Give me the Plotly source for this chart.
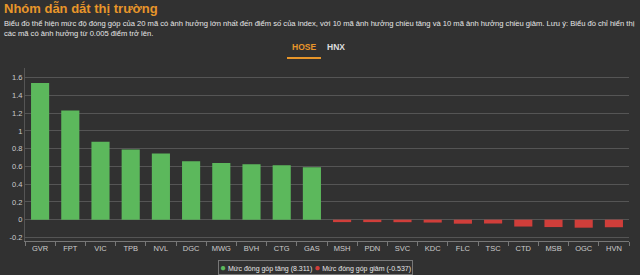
import plotly.graph_objects as go

up_codes = ["GVR", "FPT", "VIC", "TPB", "NVL", "DGC", "MWG", "BVH", "CTG", "GAS"]
up_vals = [1.54, 1.23, 0.88, 0.79, 0.745, 0.66, 0.64, 0.625, 0.615, 0.59]
down_codes = ["MSH", "PDN", "SVC", "KDC", "FLC", "TSC", "CTD", "MSB", "OGC", "HVN"]
down_vals = [-0.027, -0.027, -0.028, -0.032, -0.045, -0.043, -0.077, -0.083, -0.09, -0.085]
y_ticks = [-0.2, 0, 0.2, 0.4, 0.6, 0.8, 1, 1.2, 1.4, 1.6]
y_tick_text = ["-0.2", "0", "0.2", "0.4", "0.6", "0.8", "1", "1.2", "1.4", "1.6"]
up_name = "Mức đóng góp tăng (8.311)"
down_name = "Mức đóng góp giảm (-0.537)"

BG = "#313131"
FONT = "Liberation Sans"
GREEN = "#5cb85c"
RED = "#d03e3a"

fig = go.Figure()
fig.add_trace(go.Bar(x=up_codes, y=up_vals, name=up_name, showlegend=False,
                     marker=dict(color=GREEN, line=dict(width=0))))
fig.add_trace(go.Bar(x=down_codes, y=down_vals, name=down_name, showlegend=False,
                     marker=dict(color=RED, line=dict(width=0))))

fig.update_layout(
    width=640, height=275,
    paper_bgcolor=BG, plot_bgcolor=BG,
    margin=dict(l=25, r=11, t=68, b=34),
    barmode="overlay", bargap=0.4,
    font=dict(family=FONT, size=8, color="#cccccc"),
    showlegend=False,
    xaxis=dict(type="category", categoryorder="array", categoryarray=up_codes + down_codes,
               showline=True, linecolor="#777777", linewidth=1,
               ticks="outside", tickson="boundaries", ticklen=4, tickcolor="#777777",
               showgrid=False, tickfont=dict(size=7.5, color="#cccccc"), fixedrange=True),
    yaxis=dict(range=[-0.24, 1.71], tickvals=y_ticks, ticktext=y_tick_text,
               showline=True, linecolor="#555555", linewidth=1,
               gridcolor="#555555", gridwidth=1, zeroline=False,
               tickfont=dict(size=7.5, color="#cccccc"), ticks="", fixedrange=True),
)

# legend drawn as boxed annotation
legend_text = (f"<span style='color:{GREEN};font-size:10px'>●</span> {up_name} "
               f"<span style='color:{RED};font-size:10px'>●</span> {down_name}")
fig.add_annotation(text=legend_text, xref="paper", yref="paper", x=(315 - 25) / 604,
                   xanchor="center", y=0, yanchor="top", yshift=-19, showarrow=False,
                   bordercolor="#777777", borderwidth=1, borderpad=1, bgcolor=BG,
                   font=dict(family=FONT, size=7, color="#e6e6e6"))

fig.add_annotation(text="<b>Nhóm dẫn dắt thị trường</b>", xref="paper", yref="paper",
                   x=0, xanchor="left", y=1, yanchor="top", xshift=-23, yshift=69,
                   showarrow=False, font=dict(family=FONT, size=13, color="#e8962a"))
fig.add_annotation(text="Biểu đồ thể hiện mức độ đóng góp của 20 mã có ảnh hưởng lớn nhất đến điểm số của index, với 10 mã ảnh hưởng chiều tăng và 10 mã ảnh hưởng chiều giảm. Lưu ý: Biểu đồ chỉ hiển thị<br>các mã có ảnh hưởng từ 0.005 điểm trở lên.",
                   xref="paper", yref="paper", x=0, xanchor="left", y=1, yanchor="top",
                   xshift=-23, yshift=51, align="left", showarrow=False,
                   font=dict(family=FONT, size=7.6, color="#e6e6e6"))
fig.add_annotation(text="<b>HOSE</b>", xref="paper", yref="paper", x=0.0, xanchor="center",
                   y=1, yanchor="middle", xshift=304 - 25, yshift=21, showarrow=False,
                   font=dict(family=FONT, size=8.5, color="#e8962a"))
fig.add_annotation(text="<b>HNX</b>", xref="paper", yref="paper", x=0.0, xanchor="center",
                   y=1, yanchor="middle", xshift=336 - 25, yshift=21, showarrow=False,
                   font=dict(family=FONT, size=8.5, color="#dddddd"))
fig.add_shape(type="line", xref="paper", yref="paper", x0=(287 - 25) / 604, x1=(321 - 25) / 604,
              y0=1 + (68 - 58) / 173, y1=1 + (68 - 58) / 173,
              line=dict(color="#e8962a", width=2))

fig.write_html("out.html", config={"displayModeBar": False})
